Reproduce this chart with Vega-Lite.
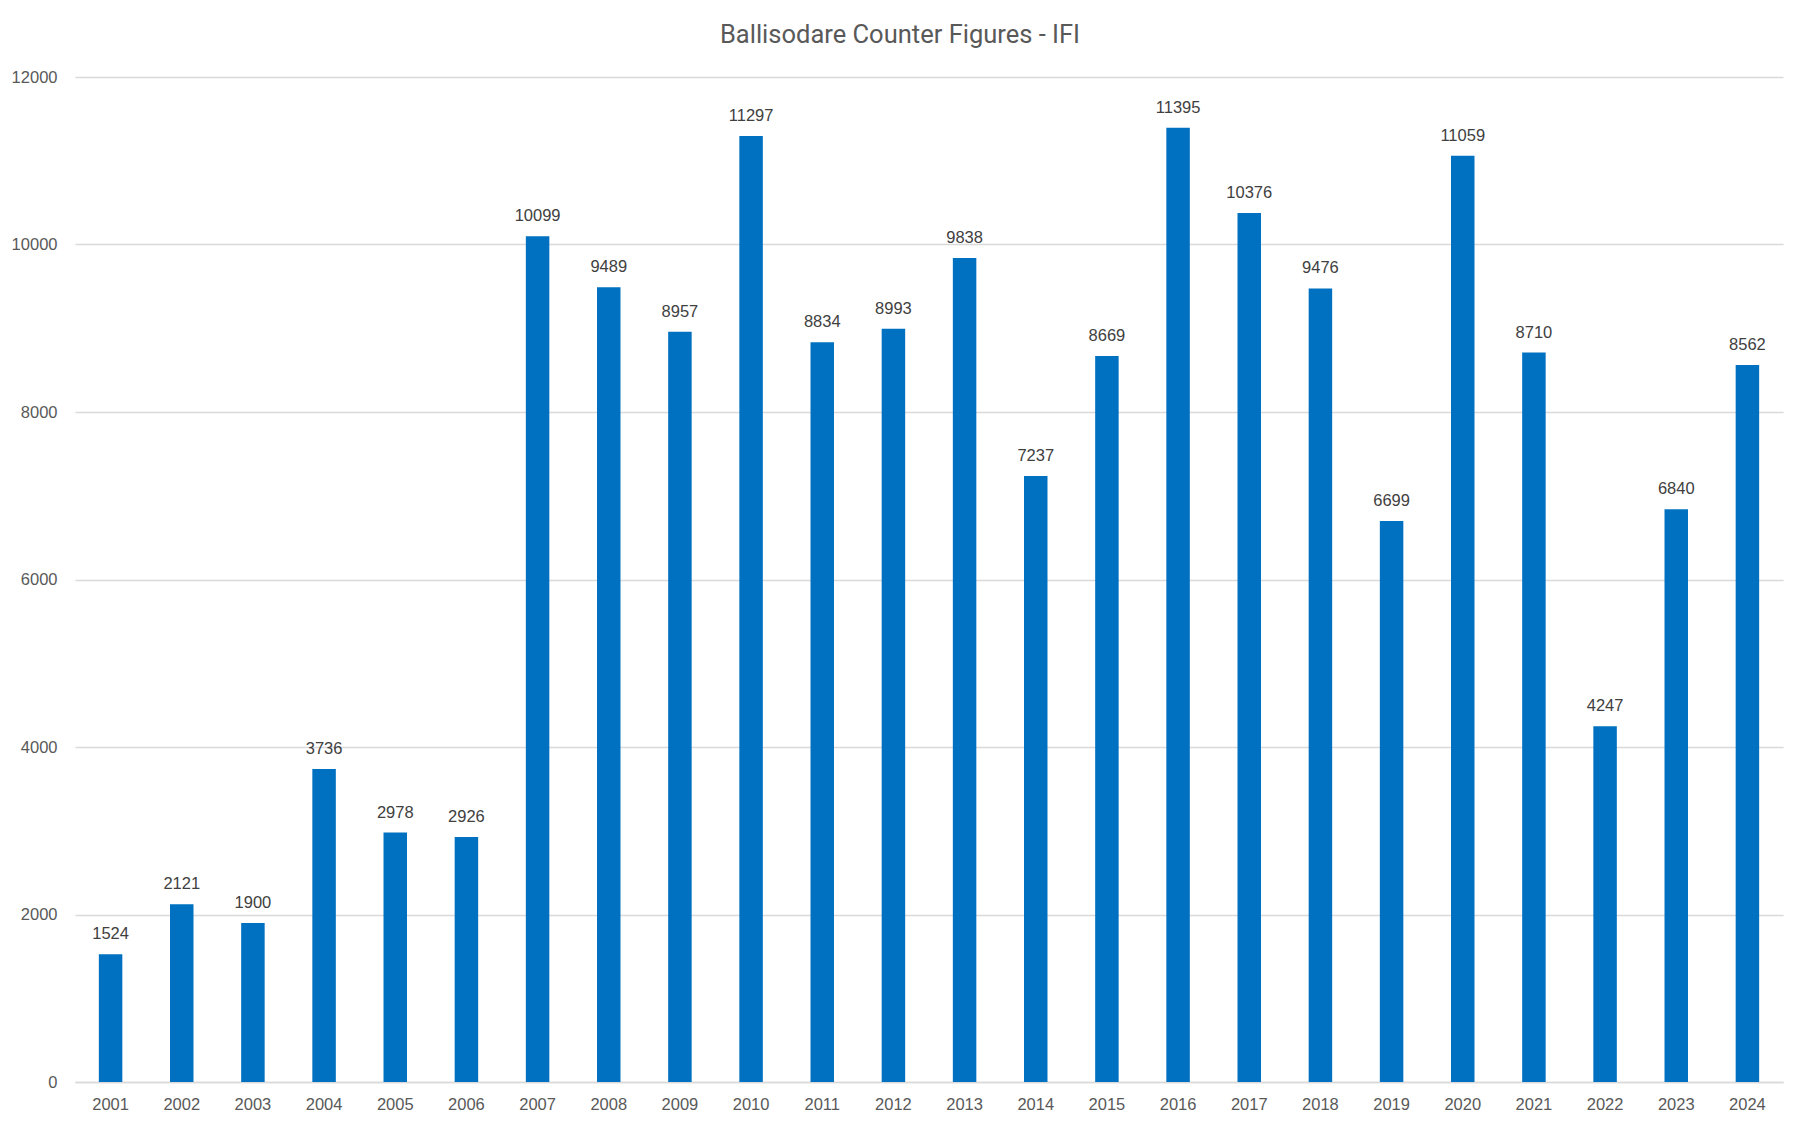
{
  "$schema": "https://vega.github.io/schema/vega-lite/v6.json",
  "autosize": {"type": "none"},
  "width": 1708,
  "height": 1005,
  "padding": {"left": 75, "top": 77, "right": 23, "bottom": 47},
  "background": "white",
  "title": {
    "text": "Ballisodare Counter Figures - IFI",
    "font": "Roboto",
    "fontSize": 25.5,
    "fontWeight": "normal",
    "color": "#595959",
    "anchor": "middle",
    "dx": -29,
    "offset": 21
  },
  "data": {
    "values": [
      {"year": "2001", "count": 1524},
      {"year": "2002", "count": 2121},
      {"year": "2003", "count": 1900},
      {"year": "2004", "count": 3736},
      {"year": "2005", "count": 2978},
      {"year": "2006", "count": 2926},
      {"year": "2007", "count": 10099},
      {"year": "2008", "count": 9489},
      {"year": "2009", "count": 8957},
      {"year": "2010", "count": 11297},
      {"year": "2011", "count": 8834},
      {"year": "2012", "count": 8993},
      {"year": "2013", "count": 9838},
      {"year": "2014", "count": 7237},
      {"year": "2015", "count": 8669},
      {"year": "2016", "count": 11395},
      {"year": "2017", "count": 10376},
      {"year": "2018", "count": 9476},
      {"year": "2019", "count": 6699},
      {"year": "2020", "count": 11059},
      {"year": "2021", "count": 8710},
      {"year": "2022", "count": 4247},
      {"year": "2023", "count": 6840},
      {"year": "2024", "count": 8562}
    ]
  },
  "encoding": {
    "x": {
      "field": "year",
      "type": "nominal",
      "sort": null,
      "title": null,
      "scale": {"paddingInner": 0.67, "paddingOuter": 0.335},
      "axis": {
        "labelAngle": 0,
        "labelFont": "Liberation Sans",
        "labelFontSize": 16.5,
        "labelColor": "#595959",
        "labelPadding": 14,
        "ticks": false,
        "domainColor": "#d9d9d9",
        "domainWidth": 1.5,
        "grid": false
      }
    },
    "y": {
      "field": "count",
      "type": "quantitative",
      "title": null,
      "scale": {"domain": [0, 12000], "nice": false},
      "axis": {
        "values": [0, 2000, 4000, 6000, 8000, 10000, 12000],
        "format": "d",
        "labelFont": "Liberation Sans",
        "labelFontSize": 16.5,
        "labelColor": "#595959",
        "labelPadding": 18,
        "ticks": false,
        "domain": false,
        "gridColor": "#d9d9d9",
        "gridWidth": 1.5
      }
    }
  },
  "layer": [
    {"mark": {"type": "bar", "color": "#0070C0"}},
    {
      "mark": {
        "type": "text",
        "baseline": "alphabetic",
        "dy": -15,
        "font": "Liberation Sans",
        "fontSize": 16.5,
        "color": "#404040"
      },
      "encoding": {"text": {"field": "count", "type": "quantitative", "format": "d"}}
    }
  ],
  "config": {"view": {"stroke": null}}
}
